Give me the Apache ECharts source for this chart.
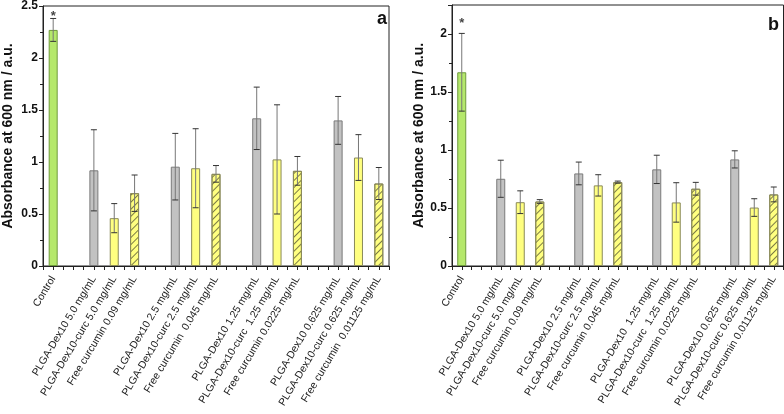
<!DOCTYPE html>
<html>
<head>
<meta charset="utf-8">
<script src="https://cdn.jsdelivr.net/npm/echarts@6/dist/echarts.min.js"></script>
<style>
html,body{margin:0;padding:0;background:#fff;}
#chart{width:784px;height:414px;}
</style>
</head>
<body>
<div id="chart"></div>
<script>
// Categories (empty strings are gap slots between groups)
const categoriesA = ['Control', '', 'PLGA-Dex10 5.0 mg/mL', 'PLGA-Dex10-curc 5.0 mg/mL', 'Free curcumin 0.09 mg/mL', '',
  'PLGA-Dex10 2.5 mg/mL', 'PLGA-Dex10-curc 2.5 mg/mL', 'Free curcumin  0.045 mg/mL', '',
  'PLGA-Dex10 1.25 mg/mL', 'PLGA-Dex10-curc  1.25 mg/mL', 'Free curcumin 0.0225 mg/mL', '',
  'PLGA-Dex10 0.625 mg/mL', 'PLGA-Dex10-curc 0.625 mg/mL', 'Free curcumin  0.01125 mg/mL'];
const categoriesB = ['Control', '', 'PLGA-Dex10 5.0 mg/mL', 'PLGA-Dex10-curc 5.0 mg/mL', 'Free curcumin 0.09 mg/mL', '',
  'PLGA-Dex10 2.5 mg/mL', 'PLGA-Dex10-curc 2.5 mg/mL', 'Free curcumin 0.045 mg/mL', '',
  'PLGA-Dex10  1.25 mg/mL', 'PLGA-Dex10-curc  1.25 mg/mL', 'Free curcumin 0.0225 mg/mL', '',
  'PLGA-Dex10 0.625 mg/mL', 'PLGA-Dex10-curc 0.625 mg/mL', 'Free curcumin 0.01125 mg/mL'];
// kind of each slot: control, dex, curc, free, or '' for gap
const kinds = ['control', '', 'dex', 'curc', 'free', '', 'dex', 'curc', 'free', '', 'dex', 'curc', 'free', '', 'dex', 'curc', 'free'];

// Panel a values and error (half-range)
const valuesA = [2.27, null, 0.92, 0.46, 0.70, null, 0.955, 0.94, 0.886, null, 1.42, 1.025, 0.915, null, 1.40, 1.043, 0.793];
const errorsA = [0.11, null, 0.39, 0.14, 0.175, null, 0.32, 0.38, 0.08, null, 0.30, 0.525, 0.138, null, 0.23, 0.22, 0.154];
// Panel b values and error
const valuesB = [1.67, null, 0.752, 0.55, 0.556, null, 0.798, 0.695, 0.723, null, 0.833, 0.548, 0.666, null, 0.919, 0.504, 0.617];
const errorsB = [0.335, null, 0.16, 0.098, 0.016, null, 0.098, 0.092, 0.009, null, 0.122, 0.17, 0.055, null, 0.074, 0.076, 0.064];

// y tick settings
const yMaxA = 2.5, yMaxB = 2.25, yInterval = 0.5;
// x ticks every half slot
const xTickInterval = 0.5;
// significance marker (category index, y)
const starA = [[0, 2.43]];
const starB = [[0, 2.115]];

const FONT = '"Liberation Sans", Arial, sans-serif';

const kindStyle = {
  control: { color: '#b5e86b', borderColor: '#6f9a3c' },
  dex: { color: '#c2c2c2', borderColor: '#7a7a7a' },
  curc: { color: '#ffff80', borderColor: '#8a8a5a' },
  free: { color: '#ffff80', borderColor: '#8a8a5a', decal: {
    symbol: 'rect', symbolSize: 1, dashArrayX: [1, 0], dashArrayY: [1, 4],
    rotation: -Math.PI / 4, color: '#7a7a45' } }
};

function barData(values) {
  const out = [];
  values.forEach((v, i) => {
    if (v == null) return;
    const s = kindStyle[kinds[i]];
    out.push({ value: [i, v], itemStyle: Object.assign({ borderWidth: 1 }, s) });
  });
  return out;
}
function errData(values, errors) {
  const out = [];
  values.forEach((v, i) => { if (v != null) out.push([i, v, errors[i]]); });
  return out;
}
function renderErr(params, api) {
  const i = api.value(0), v = api.value(1), e = api.value(2);
  const t = api.coord([i, v + e]);
  const b = api.coord([i, v - e]);
  const w = 3;
  return { type: 'group', children: [
    { type: 'line', shape: { x1: t[0], y1: t[1], x2: b[0], y2: b[1] }, style: { stroke: '#777', lineWidth: 1 } },
    { type: 'line', shape: { x1: t[0] - w, y1: t[1], x2: t[0] + w, y2: t[1] }, style: { stroke: '#333', lineWidth: 1 } },
    { type: 'line', shape: { x1: b[0] - w, y1: b[1], x2: b[0] + w, y2: b[1] }, style: { stroke: '#333', lineWidth: 1 } }
  ] };
}

function xAxisFor(gi, cats) {
  return {
    type: 'value', gridIndex: gi, min: -0.5, max: cats.length - 0.5, interval: xTickInterval, position: 'bottom',
    axisLine: { show: true, onZero: false, lineStyle: { color: '#222', width: 1 } },
    axisTick: { show: true, length: 4, lineStyle: { color: '#222' } },
    axisLabel: {
      show: true, rotate: 59, fontSize: 10.5, fontFamily: FONT, color: '#222', margin: 11,
      showMinLabel: true, showMaxLabel: true, hideOverlap: false,
      formatter: function (val) {
        const r = Math.round(val);
        return Math.abs(val - r) < 1e-6 && r >= 0 && r < cats.length ? cats[r] : '';
      }
    },
    splitLine: { show: false }
  };
}
function valAxis(gi, max, gap) {
  return {
    type: 'value', gridIndex: gi, min: 0, max: max, interval: yInterval,
    name: 'Absorbance at 600 nm / a.u.', nameLocation: 'middle', nameGap: gap, nameRotate: 90,
    nameTextStyle: { fontSize: 14, fontWeight: 'bold', fontFamily: FONT, color: '#111' },
    axisLine: { show: true, onZero: false, lineStyle: { color: '#222', width: 1 } },
    axisTick: { show: true, length: 4, lineStyle: { color: '#222' } },
    minorTick: { show: true, splitNumber: 2, length: 3, lineStyle: { color: '#222' } },
    axisLabel: { fontSize: 12, fontWeight: 'bold', fontFamily: FONT, color: '#111', margin: 5, showMaxLabel: max % yInterval === 0 },
    splitLine: { show: false }
  };
}

const starLabel = { show: true, position: 'inside', offset: [0, 3], formatter: '*', fontSize: 13, fontWeight: 'bold', fontFamily: FONT, color: '#111' };

const chart = echarts.init(document.getElementById('chart'), null, { renderer: 'canvas' });
chart.setOption({
  animation: false,
  backgroundColor: '#fff',
  title: [
    { text: 'a', left: 372, top: 5, textStyle: { fontSize: 18, fontWeight: 'bold', fontFamily: FONT, color: '#111' } },
    { text: 'b', left: 763, top: 11, textStyle: { fontSize: 18, fontWeight: 'bold', fontFamily: FONT, color: '#111' } }
  ],
  grid: [
    { left: 43, right: 395, top: 6, bottom: 148, show: true, borderColor: '#222', borderWidth: 1, containLabel: false, outerBoundsMode: 'none' },
    { left: 452, right: 0.5, top: 5, bottom: 148, show: true, borderColor: '#222', borderWidth: 1, containLabel: false, outerBoundsMode: 'none' }
  ],
  xAxis: [xAxisFor(0, categoriesA), xAxisFor(1, categoriesB)],
  yAxis: [valAxis(0, yMaxA, 28), valAxis(1, yMaxB, 25)],
  series: [
    { type: 'bar', xAxisIndex: 0, yAxisIndex: 0, data: barData(valuesA), barWidth: 9 },
    { type: 'bar', xAxisIndex: 1, yAxisIndex: 1, data: barData(valuesB), barWidth: 9 },
    { type: 'custom', xAxisIndex: 0, yAxisIndex: 0, data: errData(valuesA, errorsA), renderItem: renderErr, z: 5 },
    { type: 'custom', xAxisIndex: 1, yAxisIndex: 1, data: errData(valuesB, errorsB), renderItem: renderErr, z: 5 },
    { type: 'scatter', xAxisIndex: 0, yAxisIndex: 0, data: starA, symbolSize: 0, label: starLabel },
    { type: 'scatter', xAxisIndex: 1, yAxisIndex: 1, data: starB, symbolSize: 0, label: starLabel }
  ]
});
</script>
</body>
</html>
